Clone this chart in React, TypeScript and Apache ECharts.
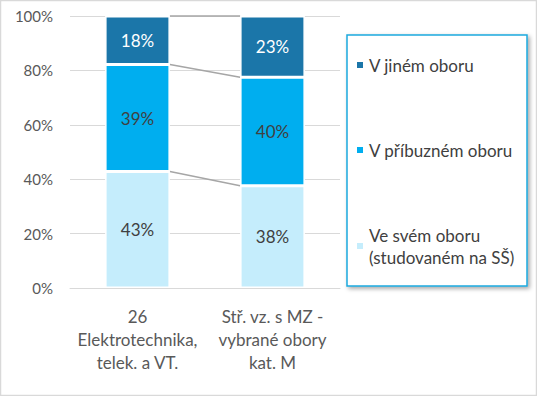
import React, { useEffect, useRef } from "react";
import * as echarts from "echarts";

const categories = ["26\nElektrotechnika,\ntelek. a VT.", "Stř. vz. s MZ -\nvybrané obory\nkat. M"];
const seriesNames = ["Ve svém oboru\n(studovaném na SŠ)", "V příbuzném oboru", "V jiném oboru"];
const ownField = [42.8, 37.6];
const relatedField = [39.4, 39.9];
const otherField = [17.8, 22.5];
const yTicks = { min: 0, max: 100, interval: 20 };

const colors = ["#C5EDFC", "#00AEEF", "#1B76A9"];
const labelColors = ["#404040", "#404040", "#FFFFFF"];
const FONT = "Lato, 'Open Sans', sans-serif";

export default function App() {
  const ref = useRef<HTMLDivElement>(null);
  useEffect(() => {
    document.body.style.margin = "0";
    const chart = echarts.init(ref.current!, null, { renderer: "svg" });
    const values = [ownField, relatedField, otherField];
    const cum: number[][] = [];
    let acc = [0, 0];
    values.forEach((v) => {
      acc = [acc[0] + v[0], acc[1] + v[1]];
      cum.push([acc[0], acc[1]]);
    });
    const barFrac = 0.48;
    const barSeries = values.map((v, i) => ({
      name: seriesNames[i],
      type: "bar",
      stack: "total",
      barWidth: "48%",
      data: v,
      itemStyle: { color: colors[i], borderColor: "#FFFFFF", borderWidth: 1.5 },
      label: {
        show: true,
        position: "inside",
        color: labelColors[i],
        fontSize: 17,
        fontFamily: FONT,
        formatter: (p: any) => Math.round(p.value) + "%",
      },
    }));
    const seriesLines = {
      type: "custom",
      name: "lines",
      silent: true,
      data: cum,
      z: 1,
      renderItem: (params: any, api: any) => {
        const a = api.coord([0, api.value(0)]);
        const b = api.coord([1, api.value(1)]);
        const w = api.size([1, 0])[0] * barFrac / 2;
        return {
          type: "line",
          shape: { x1: a[0] + w, y1: a[1], x2: b[0] - w, y2: b[1] },
          style: { stroke: "#A6A6A6", lineWidth: 1.5 },
        };
      },
      encode: { x: 0, y: 1 },
    };
    chart.setOption({
      animation: false,
      textStyle: { fontFamily: FONT },
      grid: { left: 70, right: 197, top: 16, bottom: 108 },
      xAxis: {
        type: "category",
        data: categories,
        axisLine: { lineStyle: { color: "#D9D9D9", width: 1 } },
        axisTick: { show: false },
        axisLabel: { color: "#595959", fontSize: 17, lineHeight: 23, margin: 17, fontFamily: FONT, interval: 0 },
      },
      yAxis: {
        type: "value",
        min: yTicks.min,
        max: yTicks.max,
        interval: yTicks.interval,
        axisLine: { show: false },
        axisTick: { show: false },
        splitLine: { lineStyle: { color: "#D9D9D9", width: 1 } },
        axisLabel: { color: "#595959", fontSize: 15, margin: 17, fontFamily: FONT, formatter: "{value}%" },
      },
      legend: {
        orient: "vertical",
        left: 355,
        top: 54,
        padding: 0,
        itemWidth: 8,
        itemHeight: 8,
        itemGap: 63,
        icon: "rect",
        data: [seriesNames[2], seriesNames[1], seriesNames[0]],
        textStyle: { color: "#404040", fontSize: 17, lineHeight: 22, fontFamily: FONT },
        z: 10,
      },
      graphic: [
        {
          type: "rect",
          shape: { x: 0.5, y: 0.5, width: 536, height: 395 },
          style: { fill: "none", stroke: "#D9D9D9", lineWidth: 1.5 },
          z: 0,
        },
        {
          type: "rect",
          shape: { x: 347, y: 35, width: 180, height: 251 },
          style: {
            fill: "#FFFFFF",
            stroke: "#1CA9DE",
            lineWidth: 1.5,
            shadowBlur: 4,
            shadowOffsetX: 2,
            shadowOffsetY: 2,
            shadowColor: "rgba(0,0,0,0.35)",
          },
          z: 5,
        },
      ],
      series: [...barSeries, seriesLines],
    });
    return () => chart.dispose();
  }, []);
  return <div ref={ref} style={{ width: 537, height: 396 }} />;
}
